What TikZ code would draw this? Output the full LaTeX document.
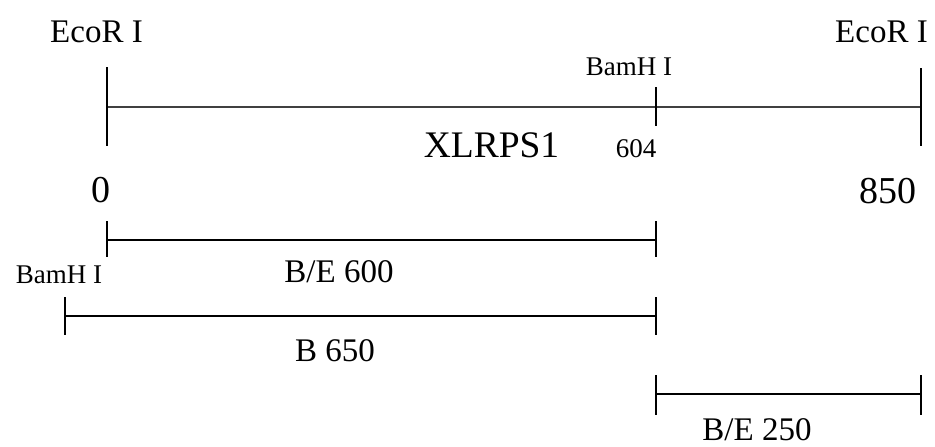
\documentclass[tikz,border=0pt]{standalone}
\usepackage{fontspec}
\setmainfont{Liberation Serif}
\begin{document}
\begin{tikzpicture}[x=1pt,y=-1pt,
  lab/.style={inner sep=0pt, anchor=base},
  big/.style={lab, font=\fontsize{33}{39}\selectfont},
  num/.style={lab, font=\fontsize{38}{44}\selectfont},
  small/.style={lab, font=\fontsize{27}{31}\selectfont},
  title/.style={lab, font=\fontsize{37.5}{44}\selectfont},
  frag/.style={lab, font=\fontsize{33}{40}\selectfont},
  mapline/.style={line width=1.3pt, draw=black!75},
  tick/.style={line width=1.6pt, draw=black},
  fragline/.style={line width=2pt, draw=black}]
\useasboundingbox (0,0) rectangle (935,447);
% map
\coordinate (mL) at (107,107);
\coordinate (mM) at (656,107);
\coordinate (mR) at (921,107);
\coordinate (mLt) at (107,67);  \coordinate (mLb) at (107,146);
\coordinate (mMt) at (656,87);  \coordinate (mMb) at (656,126);
\coordinate (mRt) at (921,68);  \coordinate (mRb) at (921,146);
\draw[mapline] (mL) -- (mR);
\draw[tick] (mLt) -- (mLb);
\draw[tick] (mMt) -- (mMb);
\draw[tick] (mRt) -- (mRb);
\node[big] (ecoL) at (96.5,42) {EcoR I};
\node[big] (ecoR) at (881.5,42) {EcoR I};
\node[small] (bamT) at (629,75) {BamH I};
\node[small] (n604) at (636,157) {604};
\node[title] (xl) at (491.5,157) {XLRPS1};
\node[num] (n0) at (101,202) {0};
\node[num] (n850) at (887.5,203) {850};
% fragment B/E 600
\coordinate (aL) at (107,240); \coordinate (aR) at (656,240);
\draw[fragline] (aL) -- (aR);
\draw[tick] (107,221) -- (107,257);
\draw[tick] (656,221) -- (656,257);
\node[frag] (fa) at (339,282) {B/E 600};
% fragment B 650
\coordinate (bL) at (65,316); \coordinate (bR) at (656,316);
\draw[fragline] (bL) -- (bR);
\draw[tick] (65,297) -- (65,335);
\draw[tick] (656,297) -- (656,335);
\node[small] (bamL) at (59,283) {BamH I};
\node[frag] (fb) at (335,361) {B 650};
% fragment B/E 250
\coordinate (cL) at (656,394); \coordinate (cR) at (921,394);
\draw[fragline] (cL) -- (cR);
\draw[tick] (656,375) -- (656,415);
\draw[tick] (921,375) -- (921,415);
\node[frag] (fc) at (757,440) {B/E 250};
\end{tikzpicture}
\end{document}
